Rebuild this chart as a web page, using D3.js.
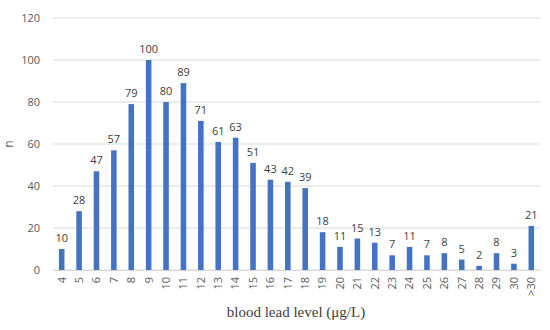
<!DOCTYPE html>
<html>
<head>
<meta charset="utf-8">
<script src="https://cdn.jsdelivr.net/npm/d3@7"></script>
<style>
  body { margin: 0; background: #fff; }
  svg { display: block; }
</style>
</head>
<body>
<svg id="chart"></svg>
<script>
const categories = ["4","5","6","7","8","9","10","11","12","13","14","15","16","17","18","19","20","21","22","23","24","25","26","27","28","29","30",">30"];
const counts = [10,28,47,57,79,100,80,89,71,61,63,51,43,42,39,18,11,15,13,7,11,7,8,5,2,8,3,21];
const yTicks = [0,20,40,60,80,100,120];

const width = 550, height = 330;
const margin = { top: 18, right: 10, bottom: 60, left: 53 };

const svg = d3.select("#chart").attr("width", width).attr("height", height);

const x = d3.scaleBand()
    .domain(categories)
    .range([margin.left, width - margin.right])
    .paddingInner(0.68)
    .paddingOuter(0.34);

const y = d3.scaleLinear()
    .domain([0, 120])
    .range([height - margin.bottom, margin.top]);

// gridlines
svg.append("g")
    .selectAll("line")
    .data(yTicks)
    .join("line")
    .attr("x1", margin.left)
    .attr("x2", width - margin.right)
    .attr("y1", d => y(d))
    .attr("y2", d => y(d))
    .attr("stroke", "#d9d9d9")
    .attr("stroke-width", 1);

// y axis labels
const yAxis = svg.append("g")
    .attr("transform", `translate(${margin.left}, 0)`)
    .call(d3.axisLeft(y).tickValues(yTicks).tickSize(0).tickPadding(13));
yAxis.select(".domain").remove();
yAxis.selectAll("text")
    .attr("font-family", "Open Sans, sans-serif")
    .attr("font-size", 11)
    .attr("fill", "#595959");

// bars
svg.append("g")
    .selectAll("rect")
    .data(counts)
    .join("rect")
    .attr("x", (d, i) => x(categories[i]))
    .attr("y", d => y(d))
    .attr("width", x.bandwidth())
    .attr("height", d => y(0) - y(d))
    .attr("fill", "#4472c4");

// value labels
svg.append("g")
    .selectAll("text")
    .data(counts)
    .join("text")
    .attr("x", (d, i) => x(categories[i]) + x.bandwidth() / 2)
    .attr("y", d => y(d) - 7)
    .attr("text-anchor", "middle")
    .attr("font-family", "Open Sans, sans-serif")
    .attr("font-size", 11)
    .attr("fill", "#404040")
    .text(d => d);

// x axis
const xAxis = svg.append("g")
    .attr("transform", `translate(0, ${y(0)})`)
    .call(d3.axisBottom(x).tickSize(0).tickPadding(0));
xAxis.select(".domain").attr("stroke", "#d9d9d9");
xAxis.selectAll("text")
    .attr("font-family", "Open Sans, sans-serif")
    .attr("font-size", 11)
    .attr("fill", "#595959")
    .attr("transform", "rotate(-90)")
    .attr("text-anchor", "end")
    .attr("dx", "-7")
    .attr("dy", "0.35em")
    .attr("x", 0)
    .attr("y", 0);

// axis titles
svg.append("text")
    .attr("x", 296)
    .attr("y", 317)
    .attr("text-anchor", "middle")
    .attr("font-family", "Liberation Serif, Times New Roman, serif")
    .attr("font-size", 15)
    .attr("fill", "#404040")
    .text("blood lead level (μg/L)");

svg.append("text")
    .attr("transform", `translate(9, ${y(60)}) rotate(-90)`)
    .attr("text-anchor", "middle")
    .attr("dy", "0.35em")
    .attr("font-family", "Open Sans, sans-serif")
    .attr("font-size", 12)
    .attr("fill", "#595959")
    .text("n");
</script>
</body>
</html>
